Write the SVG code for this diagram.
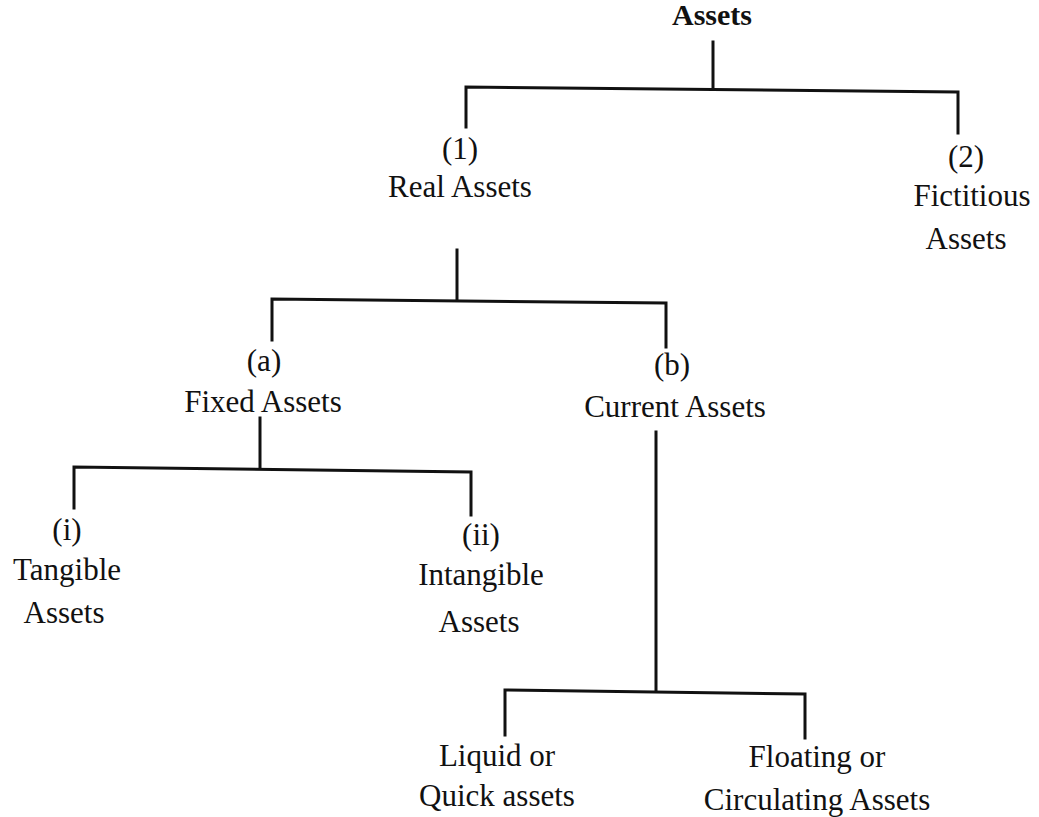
<svg xmlns="http://www.w3.org/2000/svg" width="1039" height="817" viewBox="0 0 1039 817">
<style>
  text { font-family: "Liberation Serif", "Times New Roman", serif; font-size: 31px; fill: #111; text-anchor: middle; }
  .root { font-weight: bold; font-size: 30px; }
  .conn { stroke: #111; stroke-width: 3; fill: none; stroke-linejoin: miter; stroke-linecap: square; }
</style>
<rect width="1039" height="817" fill="#ffffff"/>
<g id="connectors">
  <path class="conn" d="M713 42 V88"/>
  <path class="conn" d="M466 127 V87 L958 92 V133"/>
  <path class="conn" d="M457 250 V300"/>
  <path class="conn" d="M272 340 V299 L666 303 V347"/>
  <path class="conn" d="M260 418 V468"/>
  <path class="conn" d="M74 508 V467 L471 472 V515"/>
  <path class="conn" d="M656 432 V691"/>
  <path class="conn" d="M505 735 V690 L805 694 V738"/>
</g>
<g id="node-assets"><text class="root" x="712" y="25">Assets</text></g>
<g id="node-real"><text x="460" y="159">(1)</text><text x="460" y="197">Real Assets</text></g>
<g id="node-fictitious"><text x="966" y="167">(2)</text><text x="972" y="206">Fictitious</text><text x="966" y="249">Assets</text></g>
<g id="node-fixed"><text x="264" y="371">(a)</text><text x="263" y="412">Fixed Assets</text></g>
<g id="node-current"><text x="672" y="375">(b)</text><text x="675" y="417">Current Assets</text></g>
<g id="node-tangible"><text x="67" y="540">(i)</text><text x="67" y="580">Tangible</text><text x="64" y="623">Assets</text></g>
<g id="node-intangible"><text x="481" y="545">(ii)</text><text x="481" y="585">Intangible</text><text x="479" y="632">Assets</text></g>
<g id="node-liquid"><text x="497" y="766">Liquid or</text><text x="497" y="806">Quick assets</text></g>
<g id="node-floating"><text x="817" y="767">Floating or</text><text x="817" y="810">Circulating Assets</text></g>
</svg>
